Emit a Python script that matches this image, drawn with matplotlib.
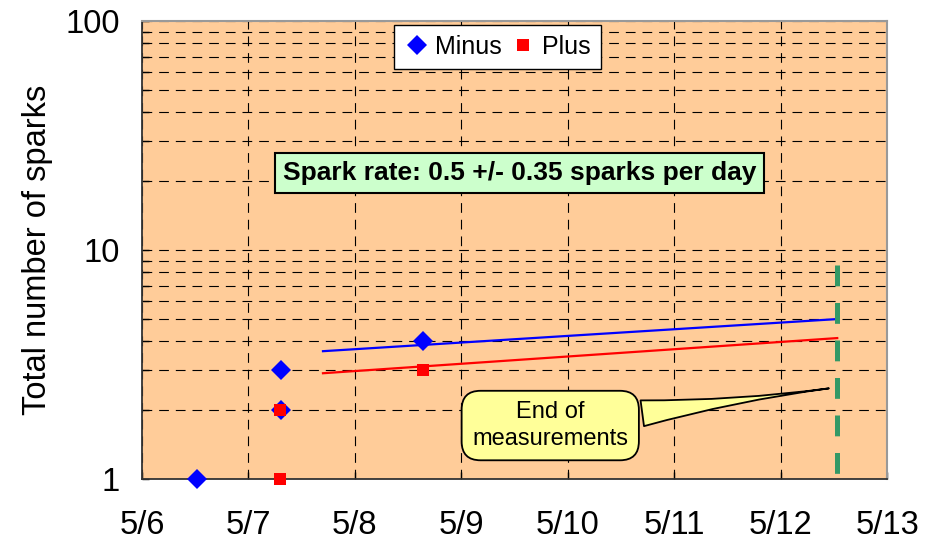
import datetime as dt
import matplotlib
matplotlib.use('Agg')
import matplotlib.pyplot as plt
from matplotlib.ticker import FixedLocator, FixedFormatter, LogLocator, NullFormatter

plt.rcParams.update({
    'font.family': ['Liberation Sans', 'DejaVu Sans'],
    'lines.scale_dashes': False,
})

# data
minus_times = [dt.datetime(2008, 5, 6, 12, 30), dt.datetime(2008, 5, 7, 7, 25),
               dt.datetime(2008, 5, 7, 7, 25), dt.datetime(2008, 5, 8, 15, 20)]
minus_counts = [1, 2, 3, 4]
plus_times = [dt.datetime(2008, 5, 7, 7, 15), dt.datetime(2008, 5, 7, 7, 15),
              dt.datetime(2008, 5, 8, 15, 20)]
plus_counts = [1, 2, 3]

fit_times = [dt.datetime(2008, 5, 7, 16, 50), dt.datetime(2008, 5, 12, 12, 45)]
minus_fit = [3.62, 5.0]
plus_fit = [2.90, 4.13]

end_time = dt.datetime(2008, 5, 12, 12, 45)
end_span = [8.6, 1.03]

day_ticks = [dt.datetime(2008, 5, d) for d in range(6, 14)]
day_labels = ["5/6", "5/7", "5/8", "5/9", "5/10", "5/11", "5/12", "5/13"]
y_ticks = [1, 10, 100]
y_labels = ["1", "10", "100"]

fig = plt.figure(figsize=(9.27, 5.42), dpi=100)
ax = fig.add_axes([0.153, 0.116, 0.804, 0.845])
ax.set_facecolor('#FFCC99')

ax.set_yscale('log')
ax.set_ylim(1, 100)
ax.set_xlim(day_ticks[0], day_ticks[-1])

# grid
ax.yaxis.set_major_locator(FixedLocator(y_ticks))
ax.yaxis.set_major_formatter(FixedFormatter(y_labels))
ax.yaxis.set_minor_locator(LogLocator(base=10, subs=range(2, 10)))
ax.yaxis.set_minor_formatter(NullFormatter())
ax.set_xticks(day_ticks)
ax.set_xticklabels(day_labels)
ax.grid(True, which='both', axis='y', color='black', lw=0.8, dashes=(7, 5))
ax.grid(True, which='major', axis='x', color='black', lw=0.8, dashes=(7, 5))
ax.set_axisbelow(True)

ax.tick_params(which='both', direction='in', length=5, width=1, labelsize=23.5)
ax.tick_params(axis='y', pad=16)
ax.tick_params(axis='x', pad=22)
ax.tick_params(axis='x', which='minor', bottom=False)

for s in ['left', 'bottom']:
    ax.spines[s].set_color('#333333')
    ax.spines[s].set_linewidth(1.3)
for s in ['top', 'right']:
    ax.spines[s].set_color('#999999')
    ax.spines[s].set_linewidth(1.5)

ax.set_ylabel("Total number of sparks", fontsize=23.5, labelpad=9)

# fit lines
ax.plot(fit_times, minus_fit, color='#0000FF', lw=1.6)
ax.plot(fit_times, plus_fit, color='#FF0000', lw=1.6)

# end of measurements
ax.plot([end_time, end_time], end_span, color='#339966', lw=3.6,
        dashes=(15, 12), solid_capstyle='butt', dash_capstyle='butt')

# data points
ax.plot(minus_times, minus_counts, 'D', color='#0000FF', ms=10.5, mew=0,
        label='Minus', clip_on=False, zorder=5)
ax.plot(plus_times, plus_counts, 's', color='#FF0000', ms=9, mew=0,
        label='Plus', clip_on=False, zorder=6)

leg = ax.legend(loc='upper center', bbox_to_anchor=(0.477, 0.992), ncol=2,
                fontsize=18, frameon=True, fancybox=False, handletextpad=0.25,
                columnspacing=0.35, borderpad=0.4, handlelength=1.0,
                borderaxespad=0)
leg.get_frame().set_edgecolor('black')
leg.get_frame().set_linewidth(1.0)
leg.get_frame().set_alpha(1)

ax.text(0.507, 0.668, "Spark rate: 0.5 +/- 0.35 sparks per day",
        transform=ax.transAxes, ha='center', va='center', fontsize=19,
        fontweight='bold',
        bbox=dict(boxstyle='square,pad=0.3', fc='#CCFFCC', ec='black', lw=1.5),
        zorder=7)

ax.annotate("End of\nmeasurements", xy=(dt.datetime(2008, 5, 12, 11, 30), 2.5),
            xycoords='data', xytext=(0.548, 0.117), textcoords='axes fraction',
            ha='center', va='center', fontsize=17, linespacing=1.25,
            bbox=dict(boxstyle='round,pad=0.45,rounding_size=0.8',
                      fc='#FFFF99', ec='black', lw=1.3),
            arrowprops=dict(arrowstyle='wedge,tail_width=1.1,shrink_factor=0.25',
                            fc='#FFFF99', ec='black', lw=1.3),
            zorder=8)

fig.savefig('out.png', dpi=100)
